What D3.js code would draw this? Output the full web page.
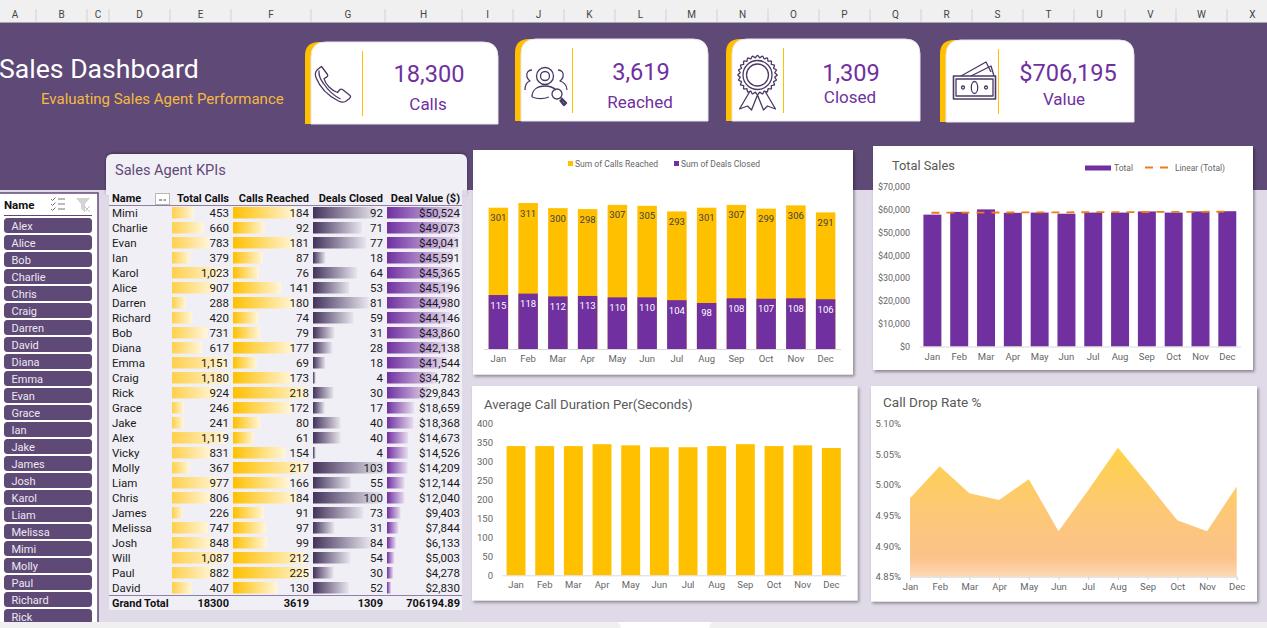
<!DOCTYPE html>
<html>
<head>
<meta charset="utf-8">
<title>Sales Dashboard</title>
<script src="https://cdnjs.cloudflare.com/ajax/libs/d3/7.9.0/d3.min.js"></script>
<style>
  html, body { margin: 0; padding: 0; background: #e0d9e8; overflow: hidden; }
  svg { display: block; }
  text { font-family: Roboto, "Noto Sans", sans-serif; }
</style>
</head>
<body>
<svg id="dash" width="1267" height="628" xmlns="http://www.w3.org/2000/svg"></svg>
<script>
// ---- Worksheet chrome ----
const columnLetters = ["A","B","C","D","E","F","G","H","I","J","K","L","M","N","O","P","Q","R","S","T","U","V","W","X"];
const columnEdges = [-6,36,87,109,170,231,311,385,462,513,564,615,666,717,768,819,870,921,972,1023,1074,1125,1176,1227,1278];

// ---- KPI cards ----
const cardValues = ["18,300","3,619","1,309","$706,195"];
const cardLabels = ["Calls","Reached","Closed","Value"];

// ---- Agent table ----
const agents = ["Mimi","Charlie","Evan","Ian","Karol","Alice","Darren","Richard","Bob","Diana","Emma","Craig","Rick","Grace","Jake","Alex","Vicky","Molly","Liam","Chris","James","Melissa","Josh","Will","Paul","David"];
const totalCalls = [453,660,783,379,1023,907,288,420,731,617,1151,1180,924,246,241,1119,831,367,977,806,226,747,848,1087,882,407];
const callsReached = [184,92,181,87,76,141,180,74,79,177,69,173,218,172,80,61,154,217,166,184,91,97,99,212,225,130];
const dealsClosed = [92,71,77,18,64,53,81,59,31,28,18,4,30,17,40,40,4,103,55,100,73,31,84,54,30,52];
const dealValue = [50524,49073,49041,45591,45365,45196,44980,44146,43860,42138,41544,34782,29843,18659,18368,14673,14526,14209,12144,12040,9403,7844,6133,5003,4278,2830];
const grandTotals = ["18300","3619","1309","706194.89"];
const slicerNames = ["Alex","Alice","Bob","Charlie","Chris","Craig","Darren","David","Diana","Emma","Evan","Grace","Ian","Jake","James","Josh","Karol","Liam","Melissa","Mimi","Molly","Paul","Richard","Rick"];

// ---- Monthly charts ----
const months = ["Jan","Feb","Mar","Apr","May","Jun","Jul","Aug","Sep","Oct","Nov","Dec"];
const monthlyReached = [301,311,300,298,307,305,293,301,307,299,306,291];
const monthlyClosed = [115,118,112,113,110,110,104,98,108,107,108,106];
const monthlySales = [57800,59000,60100,58600,58700,58200,58700,58700,59200,58700,59200,59295];
const avgDuration = [340,340,340,345,342,337,337,340,345,340,342,335];
const dropRate = [4.978,5.030,4.986,4.975,5.009,4.924,4.991,5.060,5.002,4.942,4.924,4.997];

const PURPLE = "#7030a0", GOLD = "#ffc000", BANNER = "#5f4976", LILAC = "#e0d9e8", PANEL = "#f1eff6";
const AXIS_TEXT = "#666666", AXIS_LINE = "#d9d9d9";

const svg = d3.select("#dash");
const defs = svg.append("defs");

function hGradient(id, from, to) {
  const g = defs.append("linearGradient").attr("id", id);
  g.append("stop").attr("offset", "0%").attr("stop-color", from);
  g.append("stop").attr("offset", "100%").attr("stop-color", to);
}
hGradient("barCalls", "#ffd04a", "#fff6dc");
hGradient("barReached", "#ffc000", "#fff6dc");
hGradient("barDeals", "#43335c", "#e9e6ee");
hGradient("barValue", "#7030a0", "#e8def0");

const areaFill = defs.append("linearGradient").attr("id", "areaFill").attr("x1", 0).attr("x2", 0).attr("y1", 0).attr("y2", 1);
[["0%", "#ffd246"], ["45%", "#fdc974"], ["85%", "#fbc28a"], ["100%", "#fdd9b4"]].forEach(([o, c]) =>
  areaFill.append("stop").attr("offset", o).attr("stop-color", c));

const shadow = defs.append("filter").attr("id", "cardShadow").attr("x", "-5%").attr("y", "-5%").attr("width", "112%").attr("height", "112%");
shadow.append("feDropShadow").attr("dx", 1.5).attr("dy", 2).attr("stdDeviation", 1.6).attr("flood-color", "#000").attr("flood-opacity", 0.38);
const softShadow = defs.append("filter").attr("id", "panelShadow").attr("x", "-5%").attr("y", "-10%").attr("width", "110%").attr("height", "120%");
softShadow.append("feDropShadow").attr("dx", 0).attr("dy", -1).attr("stdDeviation", 1.8).attr("flood-color", "#000").attr("flood-opacity", 0.35);

// ---- Page background, column headers, status strip ----
svg.append("rect").attr("width", 1267).attr("height", 628).attr("fill", LILAC);
svg.append("rect").attr("y", 23).attr("width", 1267).attr("height", 167).attr("fill", BANNER);
svg.append("rect").attr("width", 1267).attr("height", 22).attr("fill", "#f0f0f0");
svg.append("rect").attr("y", 22).attr("width", 1267).attr("height", 1).attr("fill", "#a8a8a8");
svg.append("g").selectAll("line").data(columnEdges.slice(1, -1)).join("line")
  .attr("x1", d => d).attr("x2", d => d).attr("y1", 9).attr("y2", 22).attr("stroke", "#d2d2d2");
svg.append("g").selectAll("text").data(columnLetters).join("text")
  .attr("x", (d, i) => (columnEdges[i] + columnEdges[i + 1]) / 2).attr("y", 18)
  .attr("text-anchor", "middle").attr("font-size", 10).attr("fill", "#444").text(d => d);
svg.append("rect").attr("y", 622).attr("width", 1267).attr("height", 6).attr("fill", "#f0f0f0");
svg.append("path").attr("fill", "#fff").attr("d", "M616,622 C619,622 620,624 621,628 L709,628 C710,624 711,622 714,622 Z");

// ---- Titles on the banner ----
svg.append("text").attr("x", -1).attr("y", 78).attr("font-size", 26.6).attr("fill", "#fff").text("Sales Dashboard");
svg.append("text").attr("x", 41).attr("y", 104).attr("font-size", 15).attr("fill", "#f4b942").text("Evaluating Sales Agent Performance");

// ---- KPI cards ----
const cardBoxes = [
  {x: 305, y: 42, right: 498, rule: 362, cx: 429, lx: 428, vy: 73, ly: 104},
  {x: 515, y: 39, right: 708, rule: 572, cx: 641, lx: 640, vy: 71, ly: 102},
  {x: 726, y: 39, right: 920, rule: 783, cx: 851, lx: 850, vy: 72, ly: 97},
  {x: 940, y: 40, right: 1134, rule: 998, cx: 1068, lx: 1064, vy: 72, ly: 99}
];
const CARD_H = 82;
function topRounded(x, y, r, w, h) {
  return `M${x},${y + h}V${y + r}Q${x},${y} ${x + r},${y}H${x + w - r}Q${x + w},${y} ${x + w},${y + r}V${y + h}Z`;
}
const cards = svg.append("g").selectAll("g").data(cardBoxes).join("g");
cards.append("path").attr("fill", GOLD).attr("d", d => topRounded(d.x, d.y, 14, 40, CARD_H));
cards.append("path").attr("fill", "#fff").attr("stroke", "#e9e6ee").attr("stroke-width", 1)
  .attr("d", d => topRounded(d.x + 6, d.y, 15, d.right - d.x - 6, CARD_H));
cards.append("rect").attr("x", d => d.rule).attr("width", 1).attr("y", d => d.y + 9).attr("height", 65).attr("fill", GOLD);
cards.append("text").attr("x", d => d.cx).attr("y", d => d.vy + 8.5).attr("text-anchor", "middle")
  .attr("font-size", 23.6).attr("fill", PURPLE).text((d, i) => cardValues[i]);
cards.append("text").attr("x", d => d.lx).attr("y", d => d.ly + 6).attr("text-anchor", "middle")
  .attr("font-size", 17).attr("fill", PURPLE).text((d, i) => cardLabels[i]);

// Line icons on the cards
const icons = svg.append("g").attr("fill", "none").attr("stroke", "#4b3864").attr("stroke-width", 1.3).attr("stroke-linejoin", "round");
icons.append("path").attr("transform", "translate(314.5,65.5)")
  .attr("d", "M7,1 L13,9 C13.6,10 13,11 12,11.6 L9.5,13.2 C11,19 17,25 23,27 L25,24.5 C25.8,23.5 27,23.5 28,24 L35.5,30 C36.5,31 36,32 35,33 L31,36 C29,37 26,36.5 24,35.5 C13,30 5,21 1.5,12 C0.5,9.5 1,6 3,4 Z M4.5,5 C4,9 6,14 9,18 C13,24 19,30 26,33.5");
const people = icons.append("g").attr("transform", "translate(524,67)");
people.append("circle").attr("cx", 21).attr("cy", 9).attr("r", 8.5);
people.append("circle").attr("cx", 21).attr("cy", 9).attr("r", 4.5);
people.append("path").attr("d", "M8,3 C4,3 2,6 3,10 C3.5,12 5,13 6,14 C3,15 1,18 1,23 M34,3 C38,3 40,6 39,10 C38.5,12 37,13 36,14 C39,15 43,18 43,23 M8,30 C8,23 13,19 21,19 C27,19 30,21 32,23 M8,30 C13,32 20,32 25,30");
people.append("circle").attr("cx", 33).attr("cy", 27).attr("r", 5);
people.append("path").attr("stroke-width", 2.4).attr("d", "M37,31 L42,36 L40,38 L36,33");
const rosette = icons.append("g").attr("transform", "translate(757.5,75)");
const scallopPts = d3.range(0, 24.01, 0.25).map(t => {
  const a = t / 24 * 2 * Math.PI, r = 18.5 + 1.1 * Math.cos(t * 2 * Math.PI);
  return [r * Math.cos(a), r * Math.sin(a)];
});
rosette.append("path").attr("d", d3.line().curve(d3.curveCardinalClosed)(scallopPts));
rosette.append("circle").attr("r", 14.5);
rosette.append("circle").attr("r", 11);
rosette.append("path").attr("d", "M-8,17 L-18,34 L-10,31 L-6,35 L0,20 L6,35 L10,31 L18,34 L8,17");
const cash = icons.append("g").attr("transform", "translate(953,62)");
cash.append("rect").attr("x", 0.5).attr("y", 14).attr("width", 42).attr("height", 23).attr("stroke-width", 1.6);
cash.append("rect").attr("x", 3).attr("y", 17).attr("width", 37).attr("height", 17);
cash.append("ellipse").attr("cx", 21.5).attr("cy", 25.5).attr("rx", 3.2).attr("ry", 6);
cash.append("circle").attr("cx", 10).attr("cy", 25.5).attr("r", 1.5);
cash.append("circle").attr("cx", 33).attr("cy", 25.5).attr("r", 1.5);
cash.append("path").attr("d", "M8,14 L33,0 L38,10 M18,14 L38,4 L41,14");

// ---- Name slicer ----
const slicer = svg.append("g");
slicer.append("rect").attr("x", -2).attr("y", 193).attr("width", 100).attr("height", 440).attr("fill", "#fff").attr("stroke", BANNER).attr("stroke-width", 1.5);
slicer.append("text").attr("x", 4).attr("y", 209).attr("font-size", 11.5).attr("font-weight", 700).attr("fill", "#111").text("Name");
slicer.append("line").attr("x1", 4).attr("x2", 92).attr("y1", 215.5).attr("y2", 215.5).attr("stroke", BANNER);
slicer.append("path").attr("fill", "none").attr("stroke", "#777").attr("d", "M58,199H65M58,204H65M58,209H65M51,199l1.5,1.5 3,-3M51,204l1.5,1.5 3,-3M51,209l1.5,1.5 3,-3");
slicer.append("path").attr("fill", "#d4d4d4").attr("d", "M76,198H90L85,204V212L81,209V204Z");
slicer.append("path").attr("fill", "none").attr("stroke", "#c4c4c4").attr("d", "M84,206l6,6M90,206l-6,6");
slicer.append("g").selectAll("g").data(slicerNames).join("g")
  .attr("transform", (d, i) => `translate(4,${218 + i * 17})`)
  .call(g => {
    g.append("rect").attr("width", 88).attr("height", 15).attr("rx", 3.5).attr("fill", BANNER);
    g.append("text").attr("x", 7.5).attr("y", 11.5).attr("font-size", 11).attr("fill", "#ece8f1").text(d => d);
  });
svg.append("rect").attr("x", 0).attr("y", 622).attr("width", 99).attr("height", 6).attr("fill", "#f0f0f0");

// ---- Agent table ----
svg.append("path").attr("fill", PANEL).attr("filter", "url(#panelShadow)")
  .attr("d", "M106,195V161Q106,154 113,154H460Q467,154 467,161V195Z");
svg.append("text").attr("x", 115).attr("y", 175).attr("font-size", 14.6).attr("fill", "#5f4976").text("Sales Agent KPIs");
svg.append("rect").attr("x", 109).attr("y", 191).attr("width", 353).attr("height", 419).attr("fill", PANEL);
svg.append("rect").attr("x", 462).attr("y", 190).attr("width", 5).attr("height", 5).attr("fill", LILAC);

const ROW0 = 213, ROW_STEP = 15;
const rowY = d3.scaleLinear().domain([0, 1]).range([ROW0, ROW0 + ROW_STEP]);
const columns = [
  {key: "Total Calls", values: totalCalls, x0: 172, right: 229, maxW: 57, grad: "barCalls", fmt: d3.format(",")},
  {key: "Calls Reached", values: callsReached, x0: 233, right: 309, maxW: 77, grad: "barReached", fmt: d3.format(",")},
  {key: "Deals Closed", values: dealsClosed, x0: 313, right: 383, maxW: 71, grad: "barDeals", fmt: d3.format(",")},
  {key: "Deal Value ($)", values: dealValue, x0: 387, right: 460, maxW: 73, grad: "barValue", fmt: d3.format("$,")}
];
const table = svg.append("g").attr("font-size", 11.5).attr("fill", "#1a1a1a");
table.append("text").attr("x", 112).attr("y", 202).attr("font-weight", 700).attr("font-size", 11).attr("fill", "#111").text("Name");
table.append("rect").attr("x", 155.5).attr("y", 193.5).attr("width", 14).attr("height", 11).attr("fill", "#fff").attr("stroke", "#b8b8b8");
table.append("path").attr("d", "M159,200H162M163.5,200H166").attr("stroke", "#444").attr("fill", "none");
table.append("line").attr("x1", 109).attr("x2", 462).attr("y1", 205.5).attr("y2", 205.5).attr("stroke", "#8f7ea8");
table.append("line").attr("x1", 109).attr("x2", 462).attr("y1", 595.5).attr("y2", 595.5).attr("stroke", "#8f7ea8");

table.selectAll("text.agent").data(agents).join("text").attr("class", "agent")
  .attr("x", 112).attr("y", (d, i) => rowY(i) + 4.2).text(d => d);

columns.forEach((col, c) => {
  const w = d3.scaleLinear().domain([0, d3.max(col.values)]).range([0, col.maxW]);
  const g = table.append("g");
  g.selectAll("rect").data(col.values).join("rect")
    .attr("x", col.x0).attr("y", (d, i) => rowY(i) - 6).attr("height", 11.5)
    .attr("width", d => w(d)).attr("fill", `url(#${col.grad})`);
  g.selectAll("text").data(col.values).join("text")
    .attr("x", col.right).attr("y", (d, i) => rowY(i) + 4.2).attr("text-anchor", "end").text(col.fmt);
  table.append("text").attr("x", col.right).attr("y", 202).attr("text-anchor", "end")
    .attr("font-weight", 700).attr("font-size", 11).attr("fill", "#111").text(col.key);
  table.append("text").attr("x", col.right).attr("y", 607).attr("text-anchor", "end")
    .attr("font-weight", 700).attr("font-size", 11).attr("fill", "#111").text(grandTotals[c]);
});
table.append("text").attr("x", 112).attr("y", 607).attr("font-weight", 700).attr("font-size", 11).attr("fill", "#111").text("Grand Total");

// ---- Shared chart helpers ----
function panel(x, y, w, h) {
  svg.append("rect").attr("x", x).attr("y", y).attr("width", w).attr("height", h).attr("fill", "#fff").attr("filter", "url(#cardShadow)");
}
function chartTitle(x, y, label, size) {
  svg.append("text").attr("x", x).attr("y", y).attr("font-size", size).attr("fill", "#595959").text(label);
}
// Legend captions are set condensed to the given run length
function legendText(x, y, label, length) {
  svg.append("text").attr("x", x).attr("y", y).attr("font-size", 9.5).attr("fill", AXIS_TEXT)
    .attr("textLength", length).attr("lengthAdjust", "spacingAndGlyphs").text(label);
}
function monthBand(x0, x1, inner) {
  return d3.scaleBand().domain(months).range([x0, x1]).paddingInner(inner).paddingOuter(inner / 2);
}
function bottomAxis(scale, y, labelDy, tick) {
  const g = svg.append("g").attr("transform", `translate(0,${y})`)
    .call(d3.axisBottom(scale).tickSize(tick || 0).tickPadding(labelDy));
  g.select(".domain").attr("stroke", AXIS_LINE);
  g.selectAll("line").attr("stroke", AXIS_LINE);
  g.selectAll("text").attr("font-size", 9.5).attr("fill", AXIS_TEXT).attr("font-family", "Roboto, sans-serif");
  return g;
}
function leftLabels(scale, x, ticks, format, size) {
  const g = svg.append("g").attr("transform", `translate(${x},0)`)
    .call(d3.axisLeft(scale).tickValues(ticks).tickSize(0).tickPadding(0).tickFormat(format));
  g.select(".domain").remove();
  g.selectAll("text").attr("font-size", size || 9.5).attr("fill", AXIS_TEXT).attr("font-family", "Roboto, sans-serif");
}

// ---- Calls reached with deals closed in front ----
panel(473, 150, 380, 224.5);
{
  const x = monthBand(483.5, 840.5, 0.345);
  const y = d3.scaleLinear().domain([0, 311]).range([349, 203]);
  const g = svg.append("g");
  g.selectAll("rect.reach").data(monthlyReached).join("rect").attr("class", "reach")
    .attr("x", (d, i) => x(months[i])).attr("width", x.bandwidth())
    .attr("y", d => y(d)).attr("height", d => y(0) - y(d)).attr("fill", GOLD);
  g.selectAll("rect.close").data(monthlyClosed).join("rect").attr("class", "close")
    .attr("x", (d, i) => x(months[i])).attr("width", x.bandwidth())
    .attr("y", d => y(d)).attr("height", d => y(0) - y(d)).attr("fill", PURPLE);
  g.selectAll("text.reach").data(monthlyReached).join("text").attr("class", "reach")
    .attr("x", (d, i) => x(months[i]) + x.bandwidth() / 2).attr("y", d => y(d) + 13.5)
    .attr("text-anchor", "middle").attr("font-size", 9.5).attr("fill", "#404040").text(d => d);
  g.selectAll("text.close").data(monthlyClosed).join("text").attr("class", "close")
    .attr("x", (d, i) => x(months[i]) + x.bandwidth() / 2).attr("y", d => y(d) + 13.5)
    .attr("text-anchor", "middle").attr("font-size", 9.5).attr("fill", "#fff").text(d => d);
  bottomAxis(x, 349, 6);
  const legend = [{c: GOLD, x: 568, t: "Sum of Calls Reached", len: 83}, {c: PURPLE, x: 674, t: "Sum of Deals Closed", len: 79}];
  svg.append("g").selectAll("rect").data(legend).join("rect")
    .attr("x", d => d.x).attr("y", 161).attr("width", 5).attr("height", 5).attr("fill", d => d.c);
  legend.forEach(d => legendText(d.x + 7, 167, d.t, d.len));
}

// ---- Total sales with its linear trend ----
panel(873, 146, 380, 224);
{
  const x = monthBand(919, 1240.7, 0.33);
  const y = d3.scaleLinear().domain([0, 70000]).range([346.5, 186.8]);
  svg.append("g").selectAll("rect").data(monthlySales).join("rect")
    .attr("x", (d, i) => x(months[i])).attr("width", x.bandwidth())
    .attr("y", d => y(d)).attr("height", d => y(0) - y(d)).attr("fill", PURPLE);
  const idx = d3.range(monthlySales.length);
  const mx = d3.mean(idx), my = d3.mean(monthlySales);
  const slope = d3.sum(idx, i => (i - mx) * (monthlySales[i] - my)) / d3.sum(idx, i => (i - mx) ** 2);
  const trend = d3.line().x(i => x(months[i]) + x.bandwidth() / 2 - 1).y(i => y(my + slope * (i - mx)));
  svg.append("path").attr("d", trend(idx)).attr("fill", "none").attr("stroke", "#ed7d14")
    .attr("stroke-width", 1.8).attr("stroke-dasharray", "8,7");
  bottomAxis(x, 346.5, 6.5);
  leftLabels(y, 910, d3.range(0, 70001, 10000), d3.format("$,"), 9);
  chartTitle(892, 170, "Total Sales", 12.8);
  svg.append("rect").attr("x", 1085).attr("y", 165.5).attr("width", 26).attr("height", 5).attr("fill", PURPLE);
  svg.append("path").attr("d", "M1145,167.5H1153M1160,167.5H1168").attr("stroke", "#ed7d14").attr("stroke-width", 1.8);
  legendText(1114, 171, "Total", 19);
  legendText(1175, 171, "Linear (Total)", 50);
}

// ---- Average call duration ----
panel(472, 386, 385.5, 214.5);
{
  const x = monthBand(501.7, 845.7, 0.34);
  const y = d3.scaleLinear().domain([0, 400]).range([575.3, 423.3]);
  svg.append("g").selectAll("rect").data(avgDuration).join("rect")
    .attr("x", (d, i) => x(months[i])).attr("width", x.bandwidth())
    .attr("y", d => y(d)).attr("height", d => y(0) - y(d)).attr("fill", GOLD);
  bottomAxis(x, 575.3, 6);
  leftLabels(y, 493, d3.range(0, 401, 50));
  chartTitle(484, 409, "Average Call Duration Per(Seconds)", 13.2);
}

// ---- Call drop rate ----
panel(871, 386, 386, 215.5);
{
  const x = d3.scalePoint().domain(months).range([910, 1236.7]);
  const y = d3.scaleLinear().domain([4.85, 5.10]).range([576.7, 423.3]);
  const area = d3.area().x((d, i) => x(months[i])).y0(y(4.85)).y1(d => y(d));
  // Gradient spans peak to floor of the shaded area
  svg.append("path").attr("d", area(dropRate)).attr("fill", "url(#areaFill)");
  bottomAxis(x, 576.7, 3, 3.5);
  leftLabels(y, 901, d3.range(0, 6).map(i => +(4.85 + i * 0.05).toFixed(2)), d => d.toFixed(2) + "%");
  chartTitle(883, 407, "Call Drop Rate %", 13.5);
}
</script>
</body>
</html>
